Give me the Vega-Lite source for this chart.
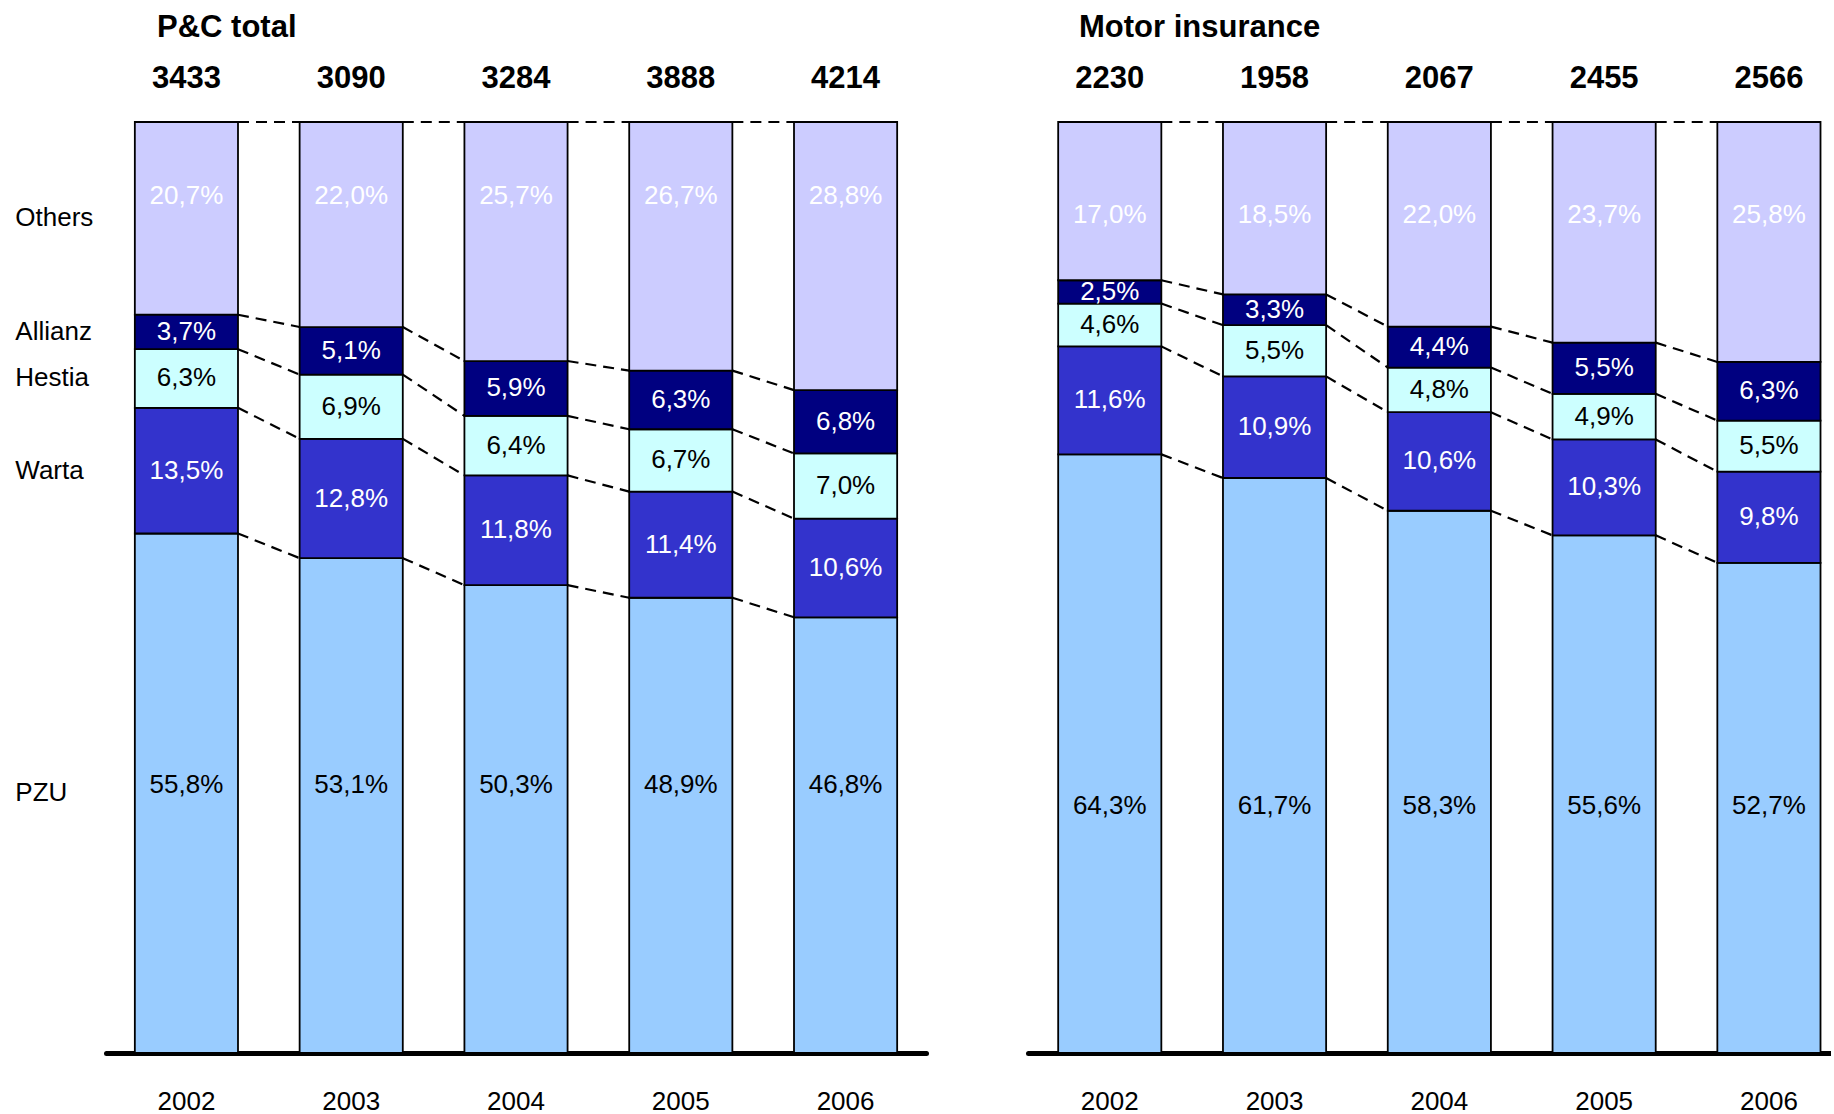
{
  "$schema": "https://vega.github.io/schema/vega-lite/v6.json",
  "padding": {"left": 15, "top": 12, "right": 0, "bottom": 0},
  "background": "white",
  "config": {
    "font": "Liberation Sans",
    "view": {"stroke": null},
    "locale": {"number": {"decimal": ",", "thousands": " ", "grouping": [3], "currency": ["", ""]}},
    "text": {"font": "Liberation Sans", "fontSize": 26},
    "axisX": {"title": null, "labelAngle": 0, "labelFontSize": 26, "labelFont": "Liberation Sans", "labelColor": "black", "labelPadding": 56, "labelBaseline": "alphabetic", "ticks": false, "tickSize": 0, "domainColor": "black", "domainWidth": 5, "domainCap": "round", "grid": false},
    "title": {"font": "Liberation Sans", "fontSize": 31, "fontWeight": "bold", "color": "black", "anchor": "start", "baseline": "alphabetic", "frame": "group"}
  },
  "datasets": {
    "shares": [
      {"panel": "pc", "year": "2002", "company": "PZU", "rank": 1, "share": 0.558},
      {"panel": "pc", "year": "2002", "company": "Warta", "rank": 2, "share": 0.135},
      {"panel": "pc", "year": "2002", "company": "Hestia", "rank": 3, "share": 0.063},
      {"panel": "pc", "year": "2002", "company": "Allianz", "rank": 4, "share": 0.037},
      {"panel": "pc", "year": "2002", "company": "Others", "rank": 5, "share": 0.207},
      {"panel": "pc", "year": "2003", "company": "PZU", "rank": 1, "share": 0.531},
      {"panel": "pc", "year": "2003", "company": "Warta", "rank": 2, "share": 0.128},
      {"panel": "pc", "year": "2003", "company": "Hestia", "rank": 3, "share": 0.069},
      {"panel": "pc", "year": "2003", "company": "Allianz", "rank": 4, "share": 0.051},
      {"panel": "pc", "year": "2003", "company": "Others", "rank": 5, "share": 0.220},
      {"panel": "pc", "year": "2004", "company": "PZU", "rank": 1, "share": 0.503},
      {"panel": "pc", "year": "2004", "company": "Warta", "rank": 2, "share": 0.118},
      {"panel": "pc", "year": "2004", "company": "Hestia", "rank": 3, "share": 0.064},
      {"panel": "pc", "year": "2004", "company": "Allianz", "rank": 4, "share": 0.059},
      {"panel": "pc", "year": "2004", "company": "Others", "rank": 5, "share": 0.257},
      {"panel": "pc", "year": "2005", "company": "PZU", "rank": 1, "share": 0.489},
      {"panel": "pc", "year": "2005", "company": "Warta", "rank": 2, "share": 0.114},
      {"panel": "pc", "year": "2005", "company": "Hestia", "rank": 3, "share": 0.067},
      {"panel": "pc", "year": "2005", "company": "Allianz", "rank": 4, "share": 0.063},
      {"panel": "pc", "year": "2005", "company": "Others", "rank": 5, "share": 0.267},
      {"panel": "pc", "year": "2006", "company": "PZU", "rank": 1, "share": 0.468},
      {"panel": "pc", "year": "2006", "company": "Warta", "rank": 2, "share": 0.106},
      {"panel": "pc", "year": "2006", "company": "Hestia", "rank": 3, "share": 0.070},
      {"panel": "pc", "year": "2006", "company": "Allianz", "rank": 4, "share": 0.068},
      {"panel": "pc", "year": "2006", "company": "Others", "rank": 5, "share": 0.288},
      {"panel": "motor", "year": "2002", "company": "PZU", "rank": 1, "share": 0.643},
      {"panel": "motor", "year": "2002", "company": "Warta", "rank": 2, "share": 0.116},
      {"panel": "motor", "year": "2002", "company": "Hestia", "rank": 3, "share": 0.046},
      {"panel": "motor", "year": "2002", "company": "Allianz", "rank": 4, "share": 0.025},
      {"panel": "motor", "year": "2002", "company": "Others", "rank": 5, "share": 0.170},
      {"panel": "motor", "year": "2003", "company": "PZU", "rank": 1, "share": 0.617},
      {"panel": "motor", "year": "2003", "company": "Warta", "rank": 2, "share": 0.109},
      {"panel": "motor", "year": "2003", "company": "Hestia", "rank": 3, "share": 0.055},
      {"panel": "motor", "year": "2003", "company": "Allianz", "rank": 4, "share": 0.033},
      {"panel": "motor", "year": "2003", "company": "Others", "rank": 5, "share": 0.185},
      {"panel": "motor", "year": "2004", "company": "PZU", "rank": 1, "share": 0.583},
      {"panel": "motor", "year": "2004", "company": "Warta", "rank": 2, "share": 0.106},
      {"panel": "motor", "year": "2004", "company": "Hestia", "rank": 3, "share": 0.048},
      {"panel": "motor", "year": "2004", "company": "Allianz", "rank": 4, "share": 0.044},
      {"panel": "motor", "year": "2004", "company": "Others", "rank": 5, "share": 0.220},
      {"panel": "motor", "year": "2005", "company": "PZU", "rank": 1, "share": 0.556},
      {"panel": "motor", "year": "2005", "company": "Warta", "rank": 2, "share": 0.103},
      {"panel": "motor", "year": "2005", "company": "Hestia", "rank": 3, "share": 0.049},
      {"panel": "motor", "year": "2005", "company": "Allianz", "rank": 4, "share": 0.055},
      {"panel": "motor", "year": "2005", "company": "Others", "rank": 5, "share": 0.237},
      {"panel": "motor", "year": "2006", "company": "PZU", "rank": 1, "share": 0.527},
      {"panel": "motor", "year": "2006", "company": "Warta", "rank": 2, "share": 0.098},
      {"panel": "motor", "year": "2006", "company": "Hestia", "rank": 3, "share": 0.055},
      {"panel": "motor", "year": "2006", "company": "Allianz", "rank": 4, "share": 0.063},
      {"panel": "motor", "year": "2006", "company": "Others", "rank": 5, "share": 0.258}
    ],
    "totals": [
      {"panel": "pc", "year": "2002", "total": 3433},
      {"panel": "pc", "year": "2003", "total": 3090},
      {"panel": "pc", "year": "2004", "total": 3284},
      {"panel": "pc", "year": "2005", "total": 3888},
      {"panel": "pc", "year": "2006", "total": 4214},
      {"panel": "motor", "year": "2002", "total": 2230},
      {"panel": "motor", "year": "2003", "total": 1958},
      {"panel": "motor", "year": "2004", "total": 2067},
      {"panel": "motor", "year": "2005", "total": 2455},
      {"panel": "motor", "year": "2006", "total": 2566}
    ]
  },
  "spacing": 102,
  "hconcat": [
    {
      "width": 820,
      "height": 931,
      "title": {"text": "P&C total", "dx": 51, "offset": 19},
      "data": {"name": "shares"},
      "transform": [
        {"filter": "datum.panel === 'pc'"},
        {"stack": "share", "groupby": ["year"], "sort": [{"field": "rank", "order": "ascending"}], "offset": "normalize", "as": ["y0", "y1"]}
      ],
      "encoding": {
        "x": {"field": "year", "type": "nominal", "scale": {"paddingInner": 0.374, "paddingOuter": 0.175}}
      },
      "layer": [
        {
          "mark": {"type": "bar", "stroke": "black", "strokeWidth": 1.8},
          "encoding": {
            "y": {"field": "y1", "type": "quantitative", "scale": {"domain": [0, 1], "nice": false}, "axis": null},
            "y2": {"field": "y0"},
            "color": {"field": "company", "type": "nominal", "legend": null, "scale": {"domain": ["PZU", "Warta", "Hestia", "Allianz", "Others"], "range": ["#99CCFF", "#3333CC", "#CCFFFF", "#000080", "#CCCCFF"]}}
          }
        },
        {
          "transform": [
            {"window": [{"op": "lead", "field": "y1", "as": "nextY"}, {"op": "lead", "field": "year", "as": "nextYear"}], "groupby": ["company"], "sort": [{"field": "year", "order": "ascending"}]},
            {"filter": "datum.nextYear != null"}
          ],
          "mark": {"type": "rule", "color": "black", "strokeWidth": 2.2, "strokeDash": [11, 7]},
          "encoding": {
            "x": {"field": "year", "type": "nominal", "bandPosition": 1},
            "x2": {"field": "nextYear", "bandPosition": 0},
            "y": {"field": "y1", "type": "quantitative"},
            "y2": {"field": "nextY"}
          }
        },
        {
          "mark": {"type": "text", "fontSize": 26, "baseline": "middle", "align": "center"},
          "encoding": {
            "y": {"field": "share", "type": "quantitative", "stack": "normalize", "bandPosition": 0.5},
            "detail": {"field": "company"},
            "order": {"field": "rank", "type": "quantitative"},
            "text": {"field": "share", "type": "quantitative", "format": ".1%"},
            "opacity": {"condition": {"test": "datum.company === 'Others' || datum.company === 'PZU'", "value": 0}, "value": 1},
            "color": {"condition": {"test": "datum.company === 'Hestia'", "value": "black"}, "value": "white"}
          }
        },
        {
          "transform": [{"filter": "datum.company === 'Others'"}],
          "mark": {"type": "text", "fontSize": 26, "baseline": "middle", "align": "center", "color": "white"},
          "encoding": {
            "y": {"datum": 0.92, "type": "quantitative"},
            "text": {"field": "share", "type": "quantitative", "format": ".1%"}
          }
        },
        {
          "transform": [{"filter": "datum.company === 'PZU'"}],
          "mark": {"type": "text", "fontSize": 26, "baseline": "middle", "align": "center", "color": "black"},
          "encoding": {
            "y": {"datum": 0.288, "type": "quantitative"},
            "text": {"field": "share", "type": "quantitative", "format": ".1%"}
          }
        },
        {
          "transform": [{"filter": "datum.year === '2002'"}],
          "mark": {"type": "text", "fontSize": 26, "baseline": "middle", "align": "left", "color": "black", "dx": -119.5},
          "encoding": {
            "x": {"field": "year", "type": "nominal", "bandPosition": 0},
            "y": {"field": "share", "type": "quantitative", "stack": "normalize", "bandPosition": 0.5},
            "detail": {"field": "company"},
            "order": {"field": "rank", "type": "quantitative"},
            "text": {"field": "company", "type": "nominal"}
          }
        },
        {
          "data": {"name": "totals"},
          "transform": [{"filter": "datum.panel === 'pc'"}],
          "mark": {"type": "text", "fontSize": 31, "fontWeight": "bold", "baseline": "alphabetic", "align": "center", "color": "black", "dy": -34},
          "encoding": {
            "x": {"field": "year", "type": "nominal"},
            "y": {"datum": 1, "type": "quantitative"},
            "text": {"field": "total", "type": "quantitative", "format": "d"}
          }
        }
      ]
    },
    {
      "width": 803,
      "height": 931,
      "title": {"text": "Motor insurance", "dx": 51, "offset": 19},
      "data": {"name": "shares"},
      "transform": [
        {"filter": "datum.panel === 'motor'"},
        {"stack": "share", "groupby": ["year"], "sort": [{"field": "rank", "order": "ascending"}], "offset": "normalize", "as": ["y0", "y1"]}
      ],
      "encoding": {
        "x": {"field": "year", "type": "nominal", "scale": {"paddingInner": 0.374, "paddingOuter": 0.1234, "align": 0.742}}
      },
      "layer": [
        {
          "mark": {"type": "bar", "stroke": "black", "strokeWidth": 1.8},
          "encoding": {
            "y": {"field": "y1", "type": "quantitative", "scale": {"domain": [0, 1], "nice": false}, "axis": null},
            "y2": {"field": "y0"},
            "color": {"field": "company", "type": "nominal", "legend": null, "scale": {"domain": ["PZU", "Warta", "Hestia", "Allianz", "Others"], "range": ["#99CCFF", "#3333CC", "#CCFFFF", "#000080", "#CCCCFF"]}}
          }
        },
        {
          "transform": [
            {"window": [{"op": "lead", "field": "y1", "as": "nextY"}, {"op": "lead", "field": "year", "as": "nextYear"}], "groupby": ["company"], "sort": [{"field": "year", "order": "ascending"}]},
            {"filter": "datum.nextYear != null"}
          ],
          "mark": {"type": "rule", "color": "black", "strokeWidth": 2.2, "strokeDash": [11, 7]},
          "encoding": {
            "x": {"field": "year", "type": "nominal", "bandPosition": 1},
            "x2": {"field": "nextYear", "bandPosition": 0},
            "y": {"field": "y1", "type": "quantitative"},
            "y2": {"field": "nextY"}
          }
        },
        {
          "mark": {"type": "text", "fontSize": 26, "baseline": "middle", "align": "center"},
          "encoding": {
            "y": {"field": "share", "type": "quantitative", "stack": "normalize", "bandPosition": 0.5},
            "detail": {"field": "company"},
            "order": {"field": "rank", "type": "quantitative"},
            "text": {"field": "share", "type": "quantitative", "format": ".1%"},
            "opacity": {"condition": {"test": "datum.company === 'Others' || datum.company === 'PZU'", "value": 0}, "value": 1},
            "color": {"condition": {"test": "datum.company === 'Hestia'", "value": "black"}, "value": "white"}
          }
        },
        {
          "transform": [{"filter": "datum.company === 'Others'"}],
          "mark": {"type": "text", "fontSize": 26, "baseline": "middle", "align": "center", "color": "white"},
          "encoding": {
            "y": {"datum": 0.9, "type": "quantitative"},
            "text": {"field": "share", "type": "quantitative", "format": ".1%"}
          }
        },
        {
          "transform": [{"filter": "datum.company === 'PZU'"}],
          "mark": {"type": "text", "fontSize": 26, "baseline": "middle", "align": "center", "color": "black"},
          "encoding": {
            "y": {"datum": 0.265, "type": "quantitative"},
            "text": {"field": "share", "type": "quantitative", "format": ".1%"}
          }
        },
        {
          "data": {"name": "totals"},
          "transform": [{"filter": "datum.panel === 'motor'"}],
          "mark": {"type": "text", "fontSize": 31, "fontWeight": "bold", "baseline": "alphabetic", "align": "center", "color": "black", "dy": -34},
          "encoding": {
            "x": {"field": "year", "type": "nominal"},
            "y": {"datum": 1, "type": "quantitative"},
            "text": {"field": "total", "type": "quantitative", "format": "d"}
          }
        }
      ]
    }
  ]
}
